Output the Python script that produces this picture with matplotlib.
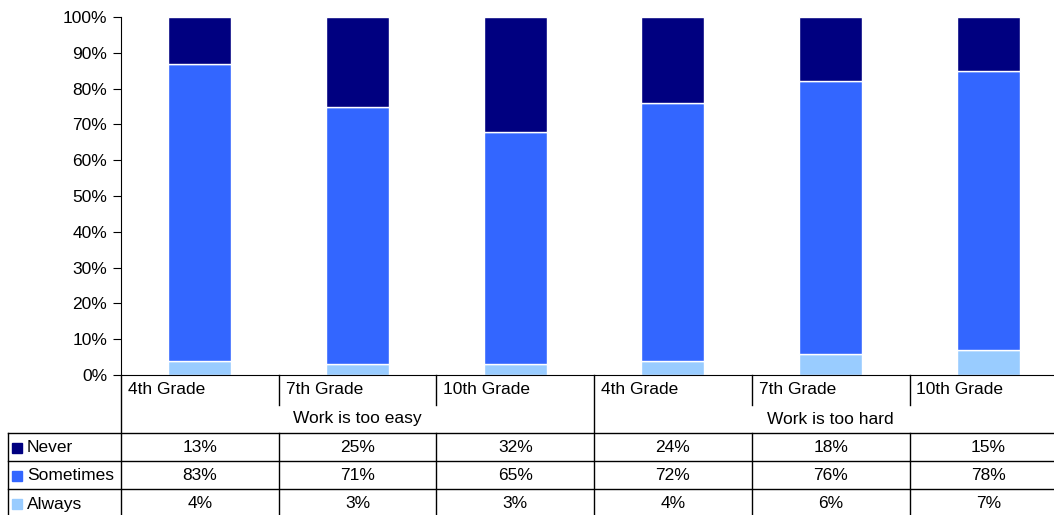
import numpy as np
import matplotlib.pyplot as plt

plt.rcParams['font.family'] = ['Liberation Sans', 'DejaVu Sans']

grades = ["4th Grade", "7th Grade", "10th Grade", "4th Grade", "7th Grade", "10th Grade"]
groups = ["Work is too easy", "Work is too hard"]
never = [13, 25, 32, 24, 18, 15]
sometimes = [83, 71, 65, 72, 76, 78]
always = [4, 3, 3, 4, 6, 7]
series = ["Never", "Sometimes", "Always"]
colors = ["#000080", "#3366FF", "#99CCFF"]

W, H = 1054, 515
FS = 12.5
fig = plt.figure(figsize=(W / 100, H / 100), dpi=100)

# plot area in pixels (last column runs off the right edge, like the original)
left, top, bottom = 121, 17, 375
colw = 157.7
right = left + colw * len(grades)
ax = fig.add_axes([left / W, (H - bottom) / H, (right - left) / W, (bottom - top) / H])

# 100% stacked
x = np.arange(len(grades))
tot = np.array(never) + np.array(sometimes) + np.array(always)
always_p = np.array(always) / tot * 100
some_p = np.array(sometimes) / tot * 100
never_p = np.array(never) / tot * 100
ax.bar(x, always_p, width=0.4, color=colors[2], edgecolor="white", linewidth=1)
ax.bar(x, some_p, width=0.4, bottom=always_p, color=colors[1], edgecolor="white", linewidth=1)
ax.bar(x, never_p, width=0.4, bottom=always_p + some_p, color=colors[0], edgecolor="white", linewidth=1)

ax.set_xlim(-0.5, len(grades) - 0.5)
ax.set_ylim(0, 100)
ax.set_yticks(np.arange(0, 101, 10))
ax.set_yticklabels([f"{v}%" for v in range(0, 101, 10)], fontsize=FS)
ax.set_xticks([])
for s in ["top", "right"]:
    ax.spines[s].set_visible(False)
ax.tick_params(axis="y", length=6, direction="out", pad=4)

# data table underneath, drawn in pixel space
tax = fig.add_axes([0, 0, 1, 1])
tax.set_xlim(0, W)
tax.set_ylim(H, 0)
tax.axis("off")

lw = 1.0
r_grade, r_group, r_rows = 375, 405, 433
rowh = 28
tab_bottom = r_rows + rowh * 3
cols = [left + i * colw for i in range(len(grades) + 1)]

tax.plot([left, left], [r_grade, tab_bottom], color="black", lw=lw)
tax.plot([cols[3], cols[3]], [r_grade, tab_bottom], color="black", lw=lw)
for i in [1, 2, 4, 5]:
    tax.plot([cols[i], cols[i]], [r_grade, r_group], color="black", lw=lw)
    tax.plot([cols[i], cols[i]], [r_rows, tab_bottom], color="black", lw=lw)
tax.plot([8, 8], [r_rows, tab_bottom], color="black", lw=lw)
for k in range(4):
    yy = r_rows + k * rowh
    tax.plot([8, right], [yy, yy], color="black", lw=lw)

for i, g in enumerate(grades):
    tax.text(cols[i] + 7, (r_grade + r_group) / 2, g, fontsize=FS, ha="left", va="center")
for j, g in enumerate(groups):
    tax.text((cols[3 * j] + cols[3 * j + 3]) / 2, (r_group + r_rows) / 2, g,
             fontsize=FS, ha="center", va="center")

for k, (name, vals, c) in enumerate(zip(series, [never, sometimes, always], colors)):
    yc = r_rows + rowh * k + rowh / 2 + 1
    tax.plot(17, yc, marker="s", markersize=7, color=c)
    tax.text(27, yc, name, fontsize=FS, ha="left", va="center")
    for i, v in enumerate(vals):
        tax.text((cols[i] + cols[i + 1]) / 2, yc, f"{v}%", fontsize=FS, ha="center", va="center")

fig.savefig("out.png", dpi=100)
